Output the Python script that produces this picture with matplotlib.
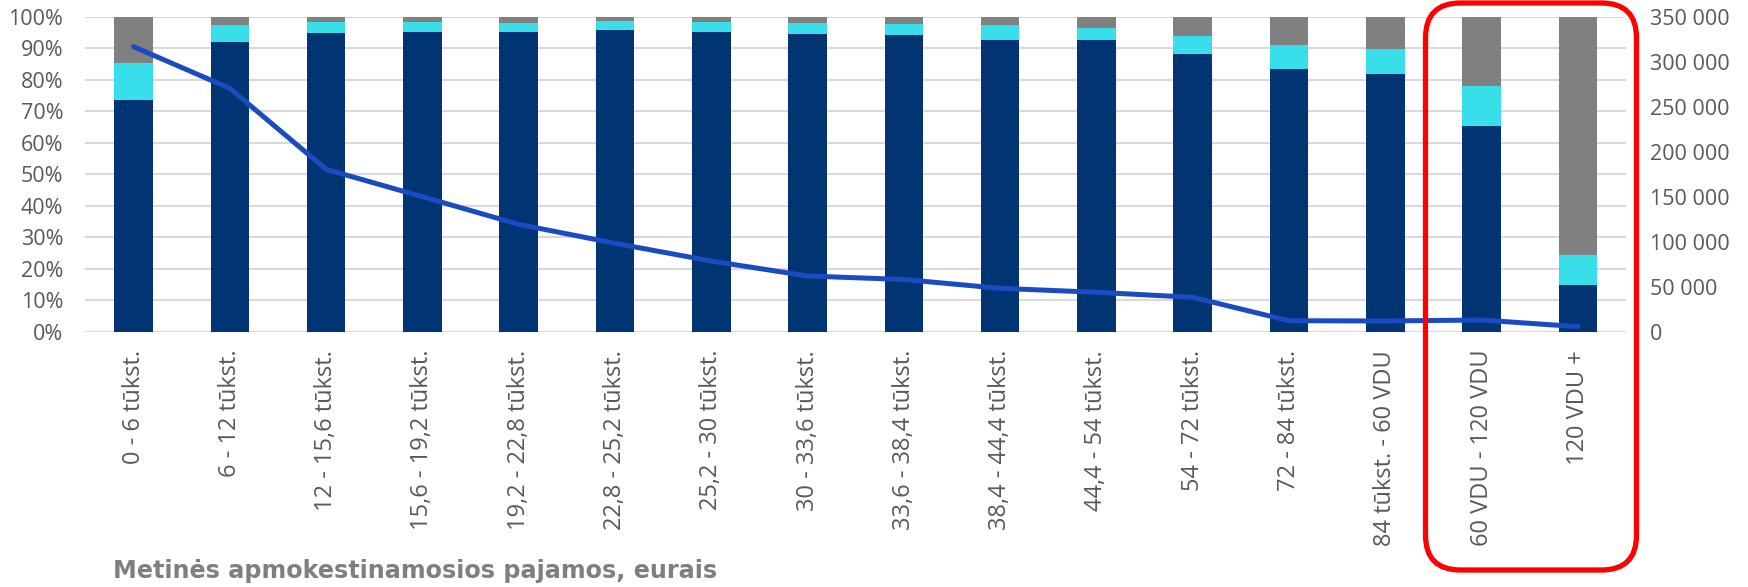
import matplotlib
matplotlib.use("Agg")
import matplotlib.pyplot as plt
import numpy as np
from matplotlib.patches import FancyBboxPatch
from matplotlib.ticker import FuncFormatter, MultipleLocator

categories = ["0 - 6 tūkst.", "6 - 12 tūkst.", "12 - 15,6 tūkst.", "15,6 - 19,2 tūkst.",
              "19,2 - 22,8 tūkst.", "22,8 - 25,2 tūkst.", "25,2 - 30 tūkst.", "30 - 33,6 tūkst.",
              "33,6 - 38,4 tūkst.", "38,4 - 44,4 tūkst.", "44,4 - 54 tūkst.", "54 - 72 tūkst.",
              "72 - 84 tūkst.", "84 tūkst. - 60 VDU", "60 VDU - 120 VDU", "120 VDU +"]

# stacked shares (%)
navy_share = [73.6, 92.0, 94.9, 95.2, 95.1, 95.8, 95.1, 94.6, 94.3, 92.6, 92.5, 88.3, 83.4, 81.9, 65.3, 14.9]
cyan_share = [11.7, 5.4, 3.4, 3.1, 3.0, 2.7, 3.2, 3.4, 3.4, 4.7, 4.0, 5.6, 7.6, 7.8, 12.7, 9.4]
gray_share = [100 - a - b for a, b in zip(navy_share, cyan_share)]

# line on right axis
line_values = [316700, 270400, 180400, 150000, 119300, 98200, 78500, 61900,
               58000, 48200, 43800, 38200, 12200, 11900, 13000, 5600]

NAVY = "#003473"
CYAN = "#38DFEB"
GRAY = "#808080"
LINE = "#1A4BC0"
TXT = "#595959"

W, H = 1748, 587
fig = plt.figure(figsize=(W / 100, H / 100), dpi=100)
left_px, right_px, top_px, bot_px = 85.4, 1626.0, 16.7, 331.7
ax = fig.add_axes([left_px / W, 1 - bot_px / H, (right_px - left_px) / W, (bot_px - top_px) / H])

x = np.arange(len(categories))
bw = 0.40
ax.bar(x, navy_share, bw, color=NAVY, zorder=2)
ax.bar(x, cyan_share, bw, bottom=navy_share, color=CYAN, zorder=2)
bottoms2 = [a + b for a, b in zip(navy_share, cyan_share)]
ax.bar(x, gray_share, bw, bottom=bottoms2, color=GRAY, zorder=2)

ax.set_xlim(-0.5, len(categories) - 0.5)
ax.set_ylim(0, 100)
ax.yaxis.set_major_locator(MultipleLocator(10))
ax.yaxis.set_major_formatter(FuncFormatter(lambda v, p: f"{int(v)}%"))
ax.grid(axis="y", color="#D9D9D9", linewidth=1.5, zorder=0)
ax.set_axisbelow(True)
for s in ax.spines.values():
    s.set_visible(False)
ax.set_xticks(x)
ax.set_xticklabels(categories, rotation=90, fontsize=17, color=TXT, family="Open Sans")
ax.tick_params(axis="x", length=0, pad=13)
ax.tick_params(axis="y", length=0, pad=16, labelsize=15.5, labelcolor=TXT)
for t in ax.get_yticklabels():
    t.set_family("Open Sans")

ax2 = ax.twinx()
ax2.plot(x, line_values, color=LINE, linewidth=3.6, solid_capstyle="round", zorder=3)
ax2.set_ylim(0, 350000)
ax2.yaxis.set_major_locator(MultipleLocator(50000))
ax2.yaxis.set_major_formatter(FuncFormatter(lambda v, p: f"{int(v):,}".replace(",", " ")))
for s in ax2.spines.values():
    s.set_visible(False)
ax2.tick_params(axis="y", length=0, pad=17, labelsize=15.5, labelcolor=TXT)
for t in ax2.get_yticklabels():
    t.set_family("Open Sans")

fig.text(113 / W, 1 - 578 / H, "Metinės apmokestinamosios pajamos, eurais",
         fontsize=17.2, fontweight="bold", color="#7F7F7F", family="DejaVu Sans",
         ha="left", va="baseline")

# red highlight box (figure pixel coordinates)
bx0, bx1, by0, by1 = 1425.5, 1636.5, 3.0, 570.0
box = FancyBboxPatch((bx0 / W, 1 - by1 / H), (bx1 - bx0) / W, (by1 - by0) / H,
                     boxstyle="round,pad=0,rounding_size=0.02",
                     transform=fig.transFigure, fill=False, edgecolor="#FF0000",
                     linewidth=3.8, mutation_aspect=W / H, clip_on=False, zorder=10)
fig.patches.append(box)

fig.savefig("out.png", dpi=100)
